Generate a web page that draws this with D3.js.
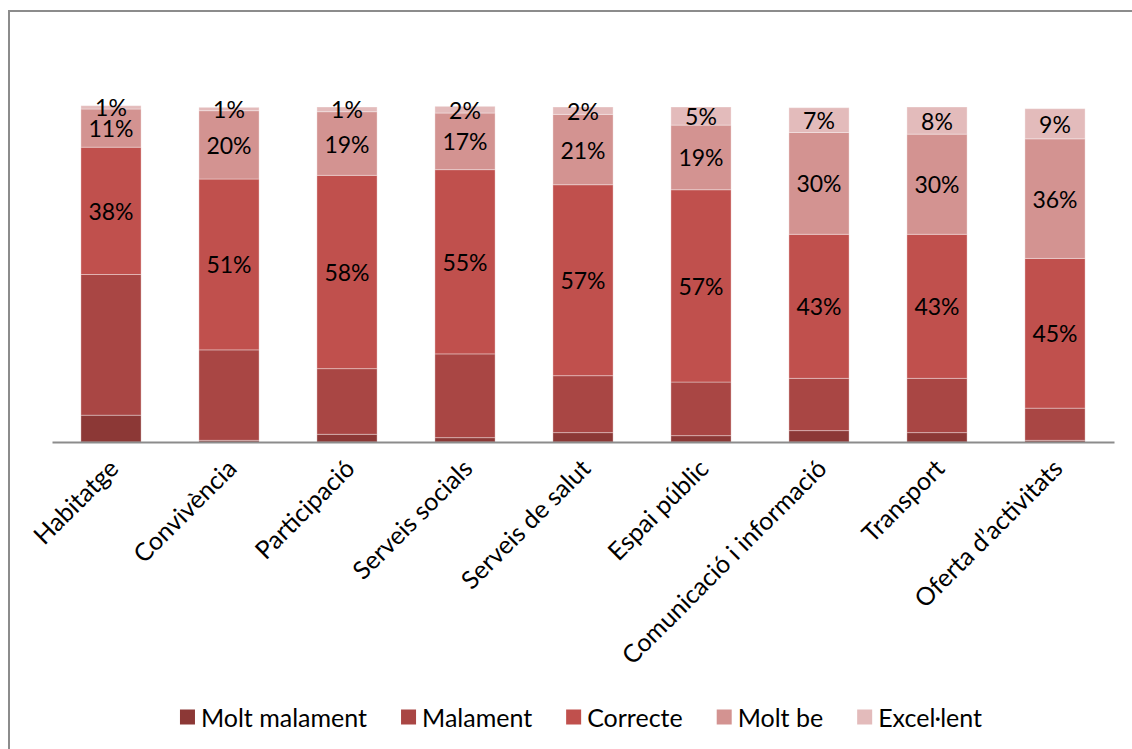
<!DOCTYPE html>
<html>
<head>
<meta charset="utf-8">
<script src="https://cdn.jsdelivr.net/npm/d3@7"></script>
<style>
  html, body { margin: 0; padding: 0; background: #fff; }
  svg { display: block; }
  text { font-family: Lato, "Open Sans", sans-serif; fill: #000; }
</style>
</head>
<body>
<svg id="chart" width="1132" height="749"></svg>
<script>
// ---- Data ----
const categories = ["Habitatge", "Convivència", "Participació", "Serveis socials", "Serveis de salut", "Espai públic", "Comunicació i informació", "Transport", "Oferta d\u2019activitats"];
const seriesNames = ["Molt malament", "Malament", "Correcte", "Molt be", "Excel·lent"];
const moltMalament = [8, 0.5, 2.3, 1.3, 2.8, 1.9, 3.4, 2.8, 0.5];
const malament     = [42, 27, 19.6, 25, 17, 16, 15.6, 16.2, 9.6];
const correcte     = [38, 51, 57.7, 55, 57, 57.4, 43, 43, 44.7];
const moltBe       = [11.4, 20.4, 19, 16.9, 21, 19.3, 30.4, 29.9, 35.7];
const excellent    = [1, 1, 1.4, 2, 2.2, 5.4, 7.4, 8.1, 9];
const labelledSeries = ["Correcte", "Molt be", "Excel·lent"];
const colors = ["#8C3836", "#A94644", "#C0504D", "#D39391", "#E3BBBB"];

// ---- Build table ----
const seriesValues = [moltMalament, malament, correcte, moltBe, excellent];
const table = categories.map((c, i) => {
  const row = { category: c };
  seriesNames.forEach((s, j) => row[s] = seriesValues[j][i]);
  return row;
});

const svg = d3.select("#chart");

// outer frame
svg.append("rect")
  .attr("x", 9).attr("y", 11)
  .attr("width", 1140).attr("height", 760)
  .attr("fill", "none").attr("stroke", "#8c8c8c").attr("stroke-width", 2);

const x = d3.scaleBand()
  .domain(categories)
  .range([52, 1114])
  .paddingInner(0.49)
  .paddingOuter(0.245);

const y = d3.scaleLinear().domain([0, 100]).range([442, 107]);
const color = d3.scaleOrdinal().domain(seriesNames).range(colors);

const stack = d3.stack().keys(seriesNames);
const stacked = stack(table);

const groups = svg.append("g").selectAll("g")
  .data(stacked).join("g")
  .attr("fill", d => color(d.key));

groups.selectAll("rect")
  .data(d => d.map(v => Object.assign(v, { key: d.key })))
  .join("rect")
  .attr("x", d => x(d.data.category))
  .attr("width", x.bandwidth())
  .attr("y", d => y(d[1]))
  .attr("height", d => y(d[0]) - y(d[1]))
  .attr("stroke", "rgba(255,255,255,0.35)")
  .attr("stroke-width", 1);

// data labels
stacked.filter(s => labelledSeries.includes(s.key)).forEach(s => {
  svg.append("g").selectAll("text")
    .data(s).join("text")
    .attr("x", d => x(d.data.category) + x.bandwidth() / 2)
    .attr("y", d => (y(d[0]) + y(d[1])) / 2)
    .attr("text-anchor", "middle")
    .attr("dominant-baseline", "central")
    .style("font-size", "23px")
    .text(d => Math.round(d[1] - d[0]) + "%");
});

// x axis
const xAxis = d3.axisBottom(x).tickSize(0).tickPadding(0);
const gx = svg.append("g").attr("transform", "translate(0,442)").call(xAxis);
gx.select(".domain").attr("stroke", "#8c8c8c").attr("stroke-width", 2);
gx.selectAll(".tick text")
  .attr("text-anchor", "end")
  .attr("transform", "translate(3,22) rotate(-45)")
  .attr("dy", "0.35em")
  .attr("y", 0)
  .style("font-size", "25px")
  .style("font-family", "Lato, sans-serif")
  .attr("fill", "#000");

// legend
const legend = svg.append("g");
const items = legend.selectAll("g").data(seriesNames).join("g");
items.append("rect").attr("width", 15).attr("height", 15).attr("y", -7.5)
  .attr("fill", d => color(d));
items.append("text").attr("x", 21).attr("dominant-baseline", "central")
  .style("font-size", "25px").text(d => d);
let cx = 0;
const gap = 34;
items.each(function () {
  const w = 21 + d3.select(this).select("text").node().getComputedTextLength();
  d3.select(this).attr("transform", `translate(${cx},0)`);
  cx += w + gap;
});
const totalW = cx - gap;
legend.attr("transform", `translate(${581 - totalW / 2},717)`);
</script>
</body>
</html>
